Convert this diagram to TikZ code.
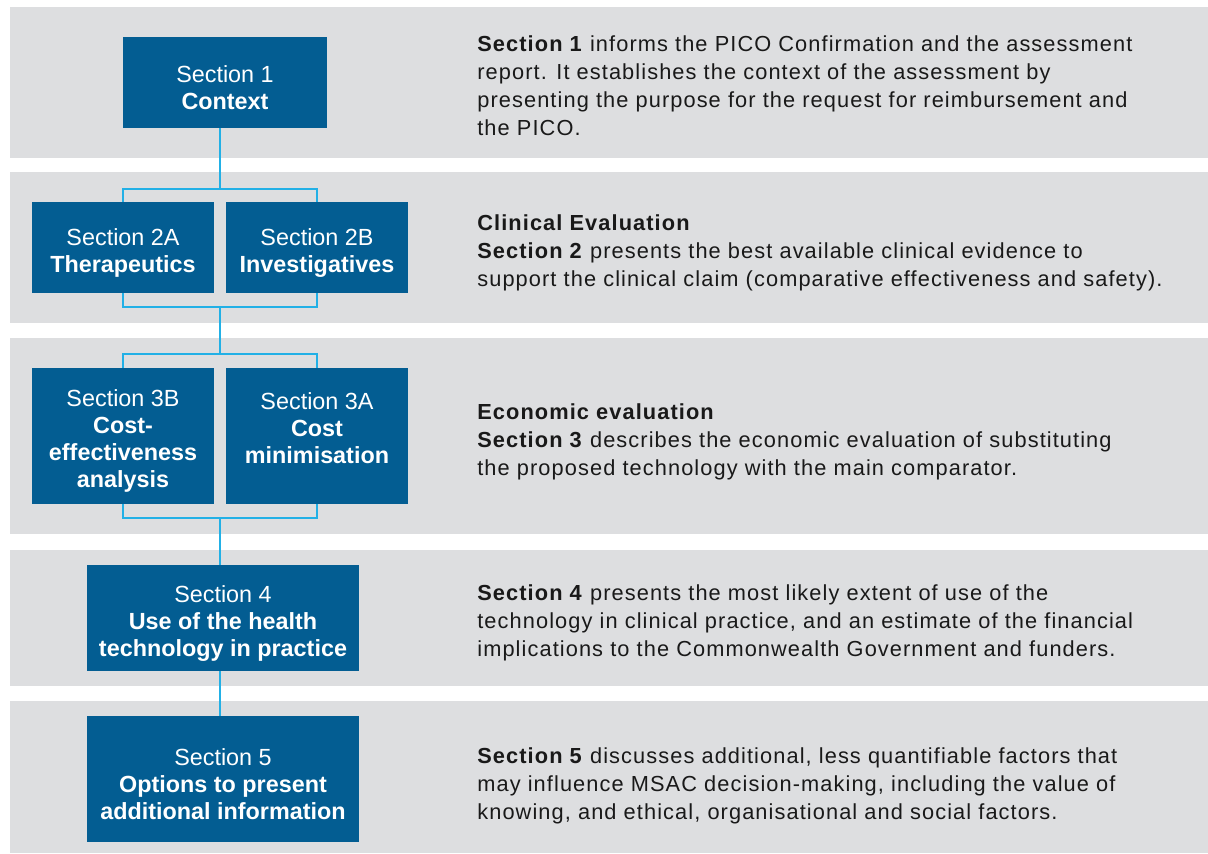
\documentclass[tikz,border=0pt]{standalone}
\usepackage{fontspec}
\setmainfont{Liberation Sans}
\newfontfamily\descfont{Liberation Sans}[LetterSpace=5]
\usepackage{xcolor}
\usetikzlibrary{positioning}
\definecolor{boxblue}{RGB}{3,93,146}
\definecolor{linkcyan}{RGB}{34,176,230}
\definecolor{bandgray}{RGB}{221,222,224}
\newcommand{\boxtop}{\rule{0pt}{15.5pt}}

\tikzset{
  band/.style={fill=bandgray, draw=none},
  secbox/.style={rectangle, fill=boxblue, draw=none, text=white, align=center,
    inner sep=0pt, font=\fontsize{13.3}{15.4}\selectfont},
  link/.style={draw=linkcyan, line width=1.2pt},
  desc/.style={anchor=north west, align=left, inner sep=0pt, text=black!90,
    font=\descfont\fontsize{12.4}{16}\selectfont}
}

\begin{document}
\begin{tikzpicture}[x=0.02cm, y=-0.02cm]
  \useasboundingbox (0,0) rectangle (1208,853);
  % background bands
  \fill[band] (10,7) rectangle (1208,158);
  \fill[band] (10,172) rectangle (1208,323);
  \fill[band] (10,338) rectangle (1208,534);
  \fill[band] (10,550) rectangle (1208,686);
  \fill[band] (10,701) rectangle (1208,853);

  % section boxes
  \node[secbox, minimum width=4.08cm, minimum height=1.82cm] (s1) at (225,82.5) {\boxtop Section 1\\\textbf{Context}};
  \node[secbox, minimum width=3.64cm, minimum height=1.82cm] (s2a) at (123,247.5) {\boxtop Section 2A\\\textbf{Therapeutics}};
  \node[secbox, minimum width=3.64cm, minimum height=1.82cm] (s2b) at (317,247.5) {\boxtop Section 2B\\\textbf{Investigatives}};
  \node[secbox, minimum width=3.64cm, minimum height=2.72cm] (s3b) at (123,436) {\boxtop Section 3B\\\textbf{Cost-}\\\textbf{effectiveness}\\\textbf{analysis}};
  \node[secbox, minimum width=3.64cm, minimum height=2.72cm] (s3a) at (317,436) {\boxtop Section 3A\\\textbf{Cost}\\\textbf{minimisation}\\\mbox{}};
  \node[secbox, minimum width=5.44cm, minimum height=2.12cm] (s4) at (223,618) {\boxtop Section 4\\\textbf{Use of the health}\\\textbf{technology in practice}};
  \node[secbox, minimum width=5.44cm, minimum height=2.52cm] (s5) at (223,779) {\boxtop Section 5\\\textbf{Options to present}\\\textbf{additional information}};

  % connectors
  \coordinate (j2top) at (220,189);
  \coordinate (j2bot) at (220,307);
  \coordinate (j3top) at (220,354);
  \coordinate (j3bot) at (220,518);
  \draw[link] (j2top |- s1.south) -- (j2top);
  \draw[link] (s2a.north) |- (j2top) -| (s2b.north);
  \draw[link] (s2a.south) |- (j2bot) -| (s2b.south);
  \draw[link] (j2bot) -- (j3top);
  \draw[link] (s3b.north) |- (j3top) -| (s3a.north);
  \draw[link] (s3b.south) |- (j3bot) -| (s3a.south);
  \draw[link] (j3bot) -- (j3bot |- s4.north);
  \draw[link] (j3bot |- s4.south) -- (j3bot |- s5.north);

  % descriptions
  \node[desc] (d1) at (477,35) {\textbf{Section 1} informs the PICO Confirmation and the assessment\\report. It establishes the context of the assessment by\\presenting the purpose for the request for reimbursement and\\the PICO.};
  \node[desc] (d2) at (477,214) {\textbf{Clinical Evaluation}\\\textbf{Section 2} presents the best available clinical evidence to\\support the clinical claim (comparative effectiveness and safety).};
  \node[desc] (d3) at (477,403) {\textbf{Economic evaluation}\\\textbf{Section 3} describes the economic evaluation of substituting\\the proposed technology with the main comparator.};
  \node[desc] (d4) at (477,584) {\textbf{Section 4} presents the most likely extent of use of the\\technology in clinical practice, and an estimate of the financial\\implications to the Commonwealth Government and funders.};
  \node[desc] (d5) at (477,747) {\textbf{Section 5} discusses additional, less quantifiable factors that\\may influence MSAC decision-making, including the value of\\knowing, and ethical, organisational and social factors.};
\end{tikzpicture}
\end{document}
